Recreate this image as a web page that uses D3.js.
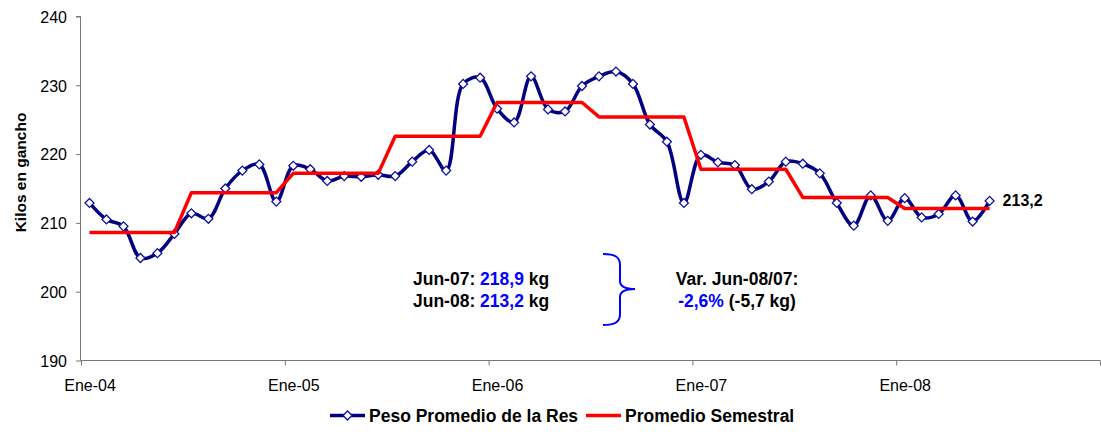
<!DOCTYPE html>
<html>
<head>
<meta charset="utf-8">
<script src="https://cdn.jsdelivr.net/npm/d3@7"></script>
<style>
  body { margin: 0; background: #fff; }
  svg { display: block; font-family: "Liberation Sans", Arial, sans-serif; }
  .axis path, .axis line { stroke: #777; }
  .axis text { fill: #000; font-size: 16px; }
</style>
</head>
<body>
<svg id="chart" width="1101" height="434"></svg>
<script>
"use strict";

// meses Ene-04 .. Jun-08 (indice 0 = Ene-04)
const mesesNombre = ["Ene","Feb","Mar","Abr","May","Jun","Jul","Ago","Sep","Oct","Nov","Dic"];
const anios = ["04","05","06","07","08"];

// peso promedio de la res (kg en gancho), mensual
const pesoPromedio = [
  212.9, 210.5, 209.5, 204.9, 205.6, 208.4, 211.4, 210.6, 215.0, 217.6, 218.5, 213.1,
  218.3, 217.8, 216.1, 216.8, 216.7, 217.0, 216.8, 218.9, 220.6, 217.6, 230.2, 231.1,
  226.6, 224.6, 231.3, 226.5, 226.2, 229.9, 231.3, 232.0, 230.2, 224.3, 221.8, 212.9,
  219.9, 218.8, 218.4, 214.9, 216.0, 218.9, 218.6, 217.2, 212.9, 209.6, 214.0, 210.3,
  213.6, 210.8, 211.3, 214.0, 210.2, 213.2
];

// promedio semestral, mensual
const promedioSemestral = [
  208.6, 208.6, 208.6, 208.6, 208.6, 208.6, 214.4, 214.4, 214.4, 214.4, 214.4, 214.4,
  217.2, 217.2, 217.2, 217.2, 217.2, 217.2, 222.6, 222.6, 222.6, 222.6, 222.6, 222.6,
  227.5, 227.5, 227.5, 227.5, 227.5, 227.5, 225.4, 225.4, 225.4, 225.4, 225.4, 225.4,
  217.8, 217.8, 217.8, 217.8, 217.8, 217.8, 213.7, 213.7, 213.7, 213.7, 213.7, 213.7,
  212.1, 212.1, 212.1, 212.1, 212.1, 212.1
];

const yTicks = [190, 200, 210, 220, 230, 240];
const xTickLabels = ["Ene-04", "Ene-05", "Ene-06", "Ene-07", "Ene-08", ""];
const seriesNames = ["Peso Promedio de la Res", "Promedio Semestral"];
const ultimoValor = "213,2";

// categorias
let meses = [];
for (let a of anios) for (let m of mesesNombre) meses.push(m + "-" + a);
meses = meses.slice(0, pesoPromedio.length);

const chartMargin = { left: 81, top: 16.5, right: 1, bottom: 73.5 };
const chartWidth = 1101, chartHeight = 434;
const totalMeses = 60;

const svg = d3.select("#chart");

const x = d3.scaleLinear().domain([0, totalMeses])
  .range([chartMargin.left, chartWidth - chartMargin.right]);
const y = d3.scaleLinear().domain([190, 240])
  .range([chartHeight - chartMargin.bottom, chartMargin.top]);
const xc = i => x(i + 0.5); // centro de la categoria
const halfMes = x(0.5) - x(0);

// eje Y
const axisLeft = d3.axisLeft(y).tickValues(yTicks).tickSize(5).tickPadding(9).tickFormat(d3.format("d"));
svg.append("g").attr("class", "axis")
  .attr("transform", "translate(" + chartMargin.left + ",0)")
  .call(axisLeft)
  .call(g => g.select(".domain").attr("d", "M-0.5," + y(190) + "V" + y(240) + "H-5"))
  .selectAll("text").attr("dy", "0.36em");

// eje X
const axisBottom = d3.axisBottom(x).tickValues([0, 12, 24, 36, 48, 60]).tickSize(5)
  .tickFormat((d, i) => xTickLabels[i]);
svg.append("g").attr("class", "axis")
  .attr("transform", "translate(0," + y(190) + ")")
  .call(axisBottom)
  .call(g => g.select(".domain").attr("d", "M" + x(0) + ",0H" + x(totalMeses)))
  .selectAll("text").attr("x", halfMes).attr("y", 30.5).attr("dy", null);

// titulo eje Y
svg.append("text")
  .attr("transform", "translate(26,172.5) rotate(-90)")
  .attr("text-anchor", "middle")
  .style("font-size", "15.5px").style("font-weight", "bold")
  .text("Kilos en gancho");

// serie azul (suavizada)
const lineaPeso = d3.line()
  .x((d, i) => xc(i)).y(d => y(d))
  .curve(d3.curveCatmullRom.alpha(0.5));
svg.append("path")
  .datum(pesoPromedio)
  .attr("d", lineaPeso)
  .attr("fill", "none").attr("stroke", "#000080").attr("stroke-width", 3.5)
  .attr("stroke-linejoin", "round");

const diamond = d3.symbol(d3.symbolSquare, 40);
svg.selectAll("path.marker")
  .data(pesoPromedio)
  .enter().append("path")
  .attr("class", "marker")
  .attr("d", diamond)
  .attr("transform", (d, i) => "translate(" + xc(i) + "," + y(d) + ") rotate(45)")
  .attr("fill", "#fff").attr("stroke", "#1010a0").attr("stroke-width", 1.3);

// serie roja
const lineaSem = d3.line().x((d, i) => xc(i)).y(d => y(d));
svg.append("path")
  .datum(promedioSemestral)
  .attr("d", lineaSem)
  .attr("fill", "none").attr("stroke", "#ff0000").attr("stroke-width", 3.5)
  .attr("stroke-linejoin", "round");

// etiqueta ultimo valor
const last = pesoPromedio.length - 1;
svg.append("text")
  .attr("x", xc(last) + 13).attr("y", y(pesoPromedio[last]) + 5.5)
  .style("font-size", "16px").style("font-weight", "bold")
  .text(ultimoValor);

// anotacion
const notas = svg.append("g").style("font-size", "17.5px").style("font-weight", "bold");
const l1 = notas.append("text").attr("x", 413).attr("y", 284.5);
l1.append("tspan").text("Jun-07: ");
l1.append("tspan").attr("fill", "#0000ff").text("218,9");
l1.append("tspan").text(" kg");
const l2 = notas.append("text").attr("x", 413).attr("y", 306.5);
l2.append("tspan").text("Jun-08: ");
l2.append("tspan").attr("fill", "#0000ff").text("213,2");
l2.append("tspan").text(" kg");

notas.append("text").attr("x", 737).attr("y", 284.5).attr("text-anchor", "middle")
  .text("Var. Jun-08/07:");
const l4 = notas.append("text").attr("x", 737).attr("y", 306.5).attr("text-anchor", "middle");
l4.append("tspan").attr("fill", "#0000ff").text("-2,6%");
l4.append("tspan").text(" (-5,7 kg)");

// llave
svg.append("path")
  .attr("d", "M603,254 C615,254 620,257 620,265 L620,281 C620,286 625,289 635,289 C625,289 620,292 620,297 L620,314 C620,322 615,325 603,325")
  .attr("fill", "none").attr("stroke", "#0000ff").attr("stroke-width", 2);

// leyenda
const legend = svg.append("g").style("font-size", "17.5px").style("font-weight", "bold");
const ly = 415.5;
legend.append("line").attr("x1", 330).attr("x2", 365).attr("y1", ly).attr("y2", ly)
  .attr("stroke", "#000080").attr("stroke-width", 3.5);
legend.append("path").attr("d", diamond)
  .attr("transform", "translate(347.5," + ly + ") rotate(45)")
  .attr("fill", "#fff").attr("stroke", "#1010a0").attr("stroke-width", 1.3);
legend.append("text").attr("x", 369).attr("y", ly + 6.5).text(seriesNames[0]);
legend.append("line").attr("x1", 586).attr("x2", 621).attr("y1", ly).attr("y2", ly)
  .attr("stroke", "#ff0000").attr("stroke-width", 3.5);
legend.append("text").attr("x", 625).attr("y", ly + 6.5).text(seriesNames[1]);
</script>
</body>
</html>
